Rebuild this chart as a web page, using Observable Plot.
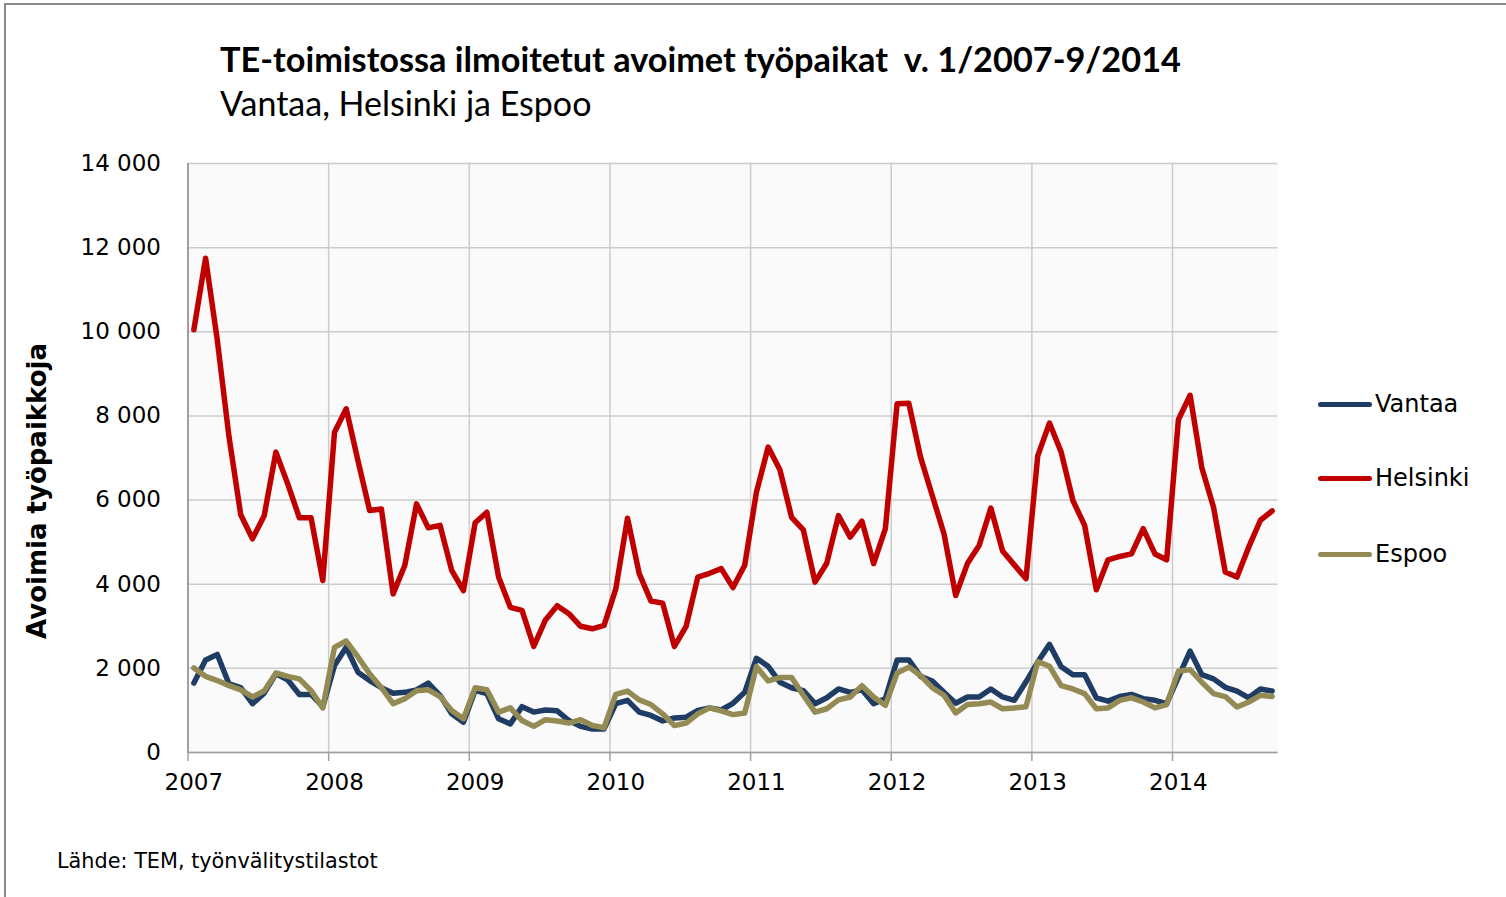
<!DOCTYPE html>
<html>
<head>
<meta charset="utf-8">
<script src="https://cdn.jsdelivr.net/npm/d3@7"></script>
<script src="https://cdn.jsdelivr.net/npm/@observablehq/plot@0.6"></script>
<style>
  html, body { margin: 0; padding: 0; background: #fff; }
  #wrap { position: relative; width: 1506px; height: 897px; overflow: hidden; background: #fff; font-family: "DejaVu Sans", sans-serif; }
  #frame { position: absolute; left: 4px; top: 3px; right: -10px; bottom: -10px; border-left: 2px solid #8c8c8c; border-top: 2px solid #8c8c8c; }
  #title { position: absolute; left: 220px; top: 38px; font-family: Lato, sans-serif; font-weight: bold; font-size: 34.3px; line-height: normal; white-space: pre; color: #000; }
  #subtitle { position: absolute; left: 220px; top: 82px; font-family: Lato, sans-serif; font-size: 34px; line-height: normal; white-space: pre; color: #000; }
  #plot { position: absolute; left: 0; top: 140px; }
  .leg { position: absolute; left: 1318px; height: 30px; display: flex; align-items: center; font-size: 24px; color: #000; }
  .leg .sw { width: 54px; height: 5px; border-radius: 3px; margin-right: 3px; }
  #caption { position: absolute; left: 57px; top: 849px; font-size: 20.8px; color: #000; white-space: pre; }
</style>
</head>
<body>
<div id="wrap">
  <div id="frame"></div>
  <div id="title"></div>
  <div id="subtitle"></div>
  <div id="plot"></div>
  <div id="legend"></div>
  <div id="caption"></div>
</div>
<script>
const titleText = "TE-toimistossa ilmoitetut avoimet työpaikat  v. 1/2007-9/2014";
const subtitleText = "Vantaa, Helsinki ja Espoo";
const yLabel = "Avoimia työpaikkoja";
const captionText = "Lähde: TEM, työnvälitystilastot";

const years = ["2007", "2008", "2009", "2010", "2011", "2012", "2013", "2014"];
const seriesNames = ["Vantaa", "Helsinki", "Espoo"];
const seriesColors = ["#1f3d64", "#c00000", "#948a54"];
const yTicks = [0, 2000, 4000, 6000, 8000, 10000, 12000, 14000];

// Monthly values, 1/2007 - 9/2014
const vantaa = [
  1650, 2200, 2330, 1630, 1540, 1160, 1410, 1870, 1730, 1380, 1380, 1090,
  2070, 2500, 1910, 1710, 1540, 1410, 1430, 1490, 1650, 1360, 920, 720,
  1480, 1400, 800, 680, 1090, 960, 1010, 990, 760, 620, 560, 560,
  1160, 1240, 960, 880, 750, 820, 840, 1000, 1060, 1010, 1170, 1430,
  2240, 2050, 1670, 1540, 1470, 1160, 1300, 1510, 1430, 1490, 1160, 1280,
  2200, 2200, 1810, 1700, 1430, 1170, 1320, 1320, 1510, 1320, 1240, 1680,
  2150, 2570, 2040, 1850, 1850, 1300, 1220, 1330, 1380, 1280, 1240, 1160,
  1790, 2410, 1850, 1750, 1550, 1460, 1300, 1510, 1460
];
const helsinki = [
  10050, 11750, 9800, 7500, 5650, 5080, 5630, 7140, 6390, 5580, 5580, 4090,
  7610, 8170, 6940, 5750, 5790, 3770, 4450, 5910, 5340, 5400, 4330, 3850,
  5460, 5710, 4170, 3450, 3380, 2520, 3150, 3490, 3300, 3000, 2940, 3020,
  3890, 5570, 4250, 3600, 3550, 2520, 3000, 4170, 4260, 4370, 3920, 4450,
  6190, 7260, 6720, 5590, 5290, 4050, 4500, 5630, 5120, 5500, 4490, 5320,
  8290, 8300, 7020, 6110, 5200, 3730, 4490, 4920, 5810, 4790, 4460, 4130,
  7050, 7830, 7140, 5990, 5400, 3870, 4580, 4660, 4720, 5320, 4720, 4580,
  7910, 8490, 6770, 5830, 4290, 4170, 4880, 5520, 5740
];
const espoo = [
  2010, 1810, 1710, 1590, 1490, 1320, 1460, 1890, 1810, 1750, 1470, 1060,
  2500, 2650, 2270, 1870, 1540, 1160, 1280, 1470, 1490, 1330, 1000, 800,
  1540, 1490, 960, 1060, 760, 620, 780, 750, 700, 780, 640, 590,
  1380, 1460, 1250, 1140, 920, 640, 700, 920, 1060, 990, 900, 940,
  2040, 1700, 1780, 1780, 1360, 960, 1040, 1250, 1320, 1590, 1320, 1120,
  1890, 2030, 1830, 1540, 1360, 940, 1140, 1160, 1200, 1040, 1060, 1090,
  2160, 2050, 1590, 1510, 1400, 1040, 1060, 1240, 1300, 1200, 1060, 1140,
  1930, 1970, 1670, 1400, 1330, 1080, 1200, 1360, 1330
];

const seriesValues = [vantaa, helsinki, espoo];
const rows = seriesValues.flatMap((vals, s) => vals.map((v, i) => ({i, value: v, series: seriesNames[s]})));
const n = helsinki.length;
const labelTicks = years.map((_, k) => k * 12);
const gridTicks = years.map((_, k) => k * 12 - 0.5);

const fmt = d3.formatLocale({decimal: ",", thousands: " ", grouping: [3], currency: ["", " €"]}).format(",");

document.getElementById("title").textContent = titleText;
document.getElementById("subtitle").textContent = subtitleText;
document.getElementById("caption").textContent = captionText;

const chart = Plot.plot({
  width: 1300,
  height: 680,
  marginLeft: 187.5,
  marginRight: 22.5,
  marginTop: 23,
  marginBottom: 68,
  style: {fontFamily: "DejaVu Sans, sans-serif", fontSize: "22px", color: "#000", background: "transparent", overflow: "visible"},
  x: {type: "linear", domain: [-0.5, n - 0.5], label: null},
  y: {domain: [0, 14000], label: null},
  marks: [
    Plot.frame({fill: "#fafafa", stroke: null}),
    Plot.gridY(yTicks, {stroke: "#cccccc", strokeOpacity: 1, strokeWidth: 1.5}),
    Plot.gridX(gridTicks, {stroke: "#cccccc", strokeOpacity: 1, strokeWidth: 1.5}),
    ...seriesNames.map((name, s) => Plot.line(rows.filter(r => r.series === name), {
      x: "i", y: "value", stroke: seriesColors[s], strokeWidth: 5.5, strokeLinejoin: "round", strokeLinecap: "round"
    })),
    Plot.ruleX([-0.5], {stroke: "#8c8c8c", strokeWidth: 1.5}),
    Plot.ruleY([0], {stroke: "#a0a0a0", strokeWidth: 1.5}),
    Plot.axisY(yTicks, {tickSize: 0, tickPadding: 27, tickFormat: fmt, fontSize: 23, label: null}),
    Plot.axisX(gridTicks, {tickSize: 9, tickFormat: () => "", stroke: "#a0a0a0", strokeWidth: 1.5, label: null}),
    Plot.axisX(labelTicks, {tickSize: 0, tickPadding: 21, tickFormat: i => years[i / 12], fontSize: 23, label: null}),
    Plot.text([yLabel], {frameAnchor: "left", textAnchor: "middle", rotate: -90, dx: -150, dy: 33, fontWeight: "bold", fontSize: 26, fill: "#000"})
  ]
});
document.getElementById("plot").appendChild(chart);

const legendTops = [389, 463, 539];
const legend = document.getElementById("legend");
seriesNames.forEach((name, s) => {
  const d = document.createElement("div");
  d.className = "leg";
  d.style.top = legendTops[s] + "px";
  const sw = document.createElement("span");
  sw.className = "sw";
  sw.style.background = seriesColors[s];
  const t = document.createElement("span");
  t.textContent = name;
  d.appendChild(sw);
  d.appendChild(t);
  legend.appendChild(d);
});
</script>
</body>
</html>
